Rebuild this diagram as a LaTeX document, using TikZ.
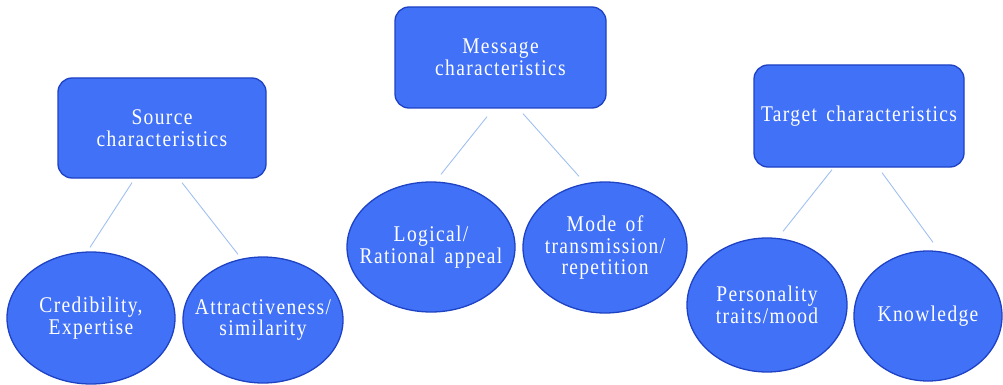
\documentclass[tikz,border=0pt]{standalone}
\usepackage{fontspec}
\setmainfont{Liberation Serif}[LetterSpace=7,WordSpace=1.5]
\usetikzlibrary{shapes.geometric,calc}
\definecolor{fillblue}{RGB}{65,113,246}
\definecolor{edgeblue}{RGB}{30,66,196}
\definecolor{linkblue}{RGB}{160,192,240}
\begin{document}
\begin{tikzpicture}[x=1pt,y=-1pt,
  boxnode/.style={draw=edgeblue,line width=1.3pt,fill=fillblue,rounded corners=14pt,inner sep=0pt},
  ellnode/.style={ellipse,draw=edgeblue,line width=1.3pt,fill=fillblue,inner sep=0pt},
  txt/.style={text=white,align=center,font=\fontsize{19.5}{18.8}\selectfont,inner sep=0pt,yscale=1.15,transform shape},
  conn/.style={draw=linkblue,line width=0.9pt}]
\useasboundingbox (0,0) rectangle (1003,385);
% boxes
\node[boxnode,minimum width=208pt,minimum height=100pt] (src) at (162,128) {};
\node[txt] (srct) at (src.center) {Source\\characteristics};
\node[boxnode,minimum width=211pt,minimum height=101pt] (msg) at (500.5,57.5) {};
\node[txt] (msgt) at (msg.center) {Message\\characteristics};
\node[boxnode,minimum width=210pt,minimum height=102pt] (tgt) at (859,116) {};
\node[txt] (tgtt) at (tgt.center) {Target characteristics};
% ellipses
\node[ellnode,minimum width=168pt,minimum height=132pt] (cred) at (91,318) {};
\node[txt] (credt) at (cred.center) {Credibility,\\Expertise};
\node[ellnode,minimum width=160pt,minimum height=126pt] (attr) at (263,320) {};
\node[txt] (attrt) at (attr.center) {Attractiveness/\\similarity};
\node[ellnode,minimum width=168pt,minimum height=130pt] (logic) at (431,247) {};
\node[txt] (logict) at (logic.center) {Logical/\\Rational appeal};
\node[ellnode,minimum width=164pt,minimum height=131pt] (mode) at (605,247.5) {};
\node[txt] (modet) at (mode.center) {Mode of\\transmission/\\repetition};
\node[ellnode,minimum width=160pt,minimum height=134pt] (pers) at (767,305) {};
\node[txt] (perst) at (pers.center) {Personality\\traits/mood};
\node[ellnode,minimum width=148pt,minimum height=130pt] (know) at (928,316) {};
\node[txt] (knowt) at (know.center) {Knowledge};
% connectors
\draw[conn] ($(src.south)+(-30,4)$) -- ($(cred.north)+(-1,-4)$);
\draw[conn] ($(src.south)+(20,4)$) -- ($(attr.north)+(-25,-2)$);
\draw[conn] ($(msg.south)+(-13.5,8)$) -- ($(logic.north)+(10,-7)$);
\draw[conn] ($(msg.south)+(22.5,5)$) -- ($(mode.north)+(-26,-5)$);
\draw[conn] ($(tgt.south)+(-27,2)$) -- ($(pers.north)+(16,-6)$);
\draw[conn] ($(tgt.south)+(23,5)$) -- ($(know.north)+(5,-8)$);
\end{tikzpicture}
\end{document}
